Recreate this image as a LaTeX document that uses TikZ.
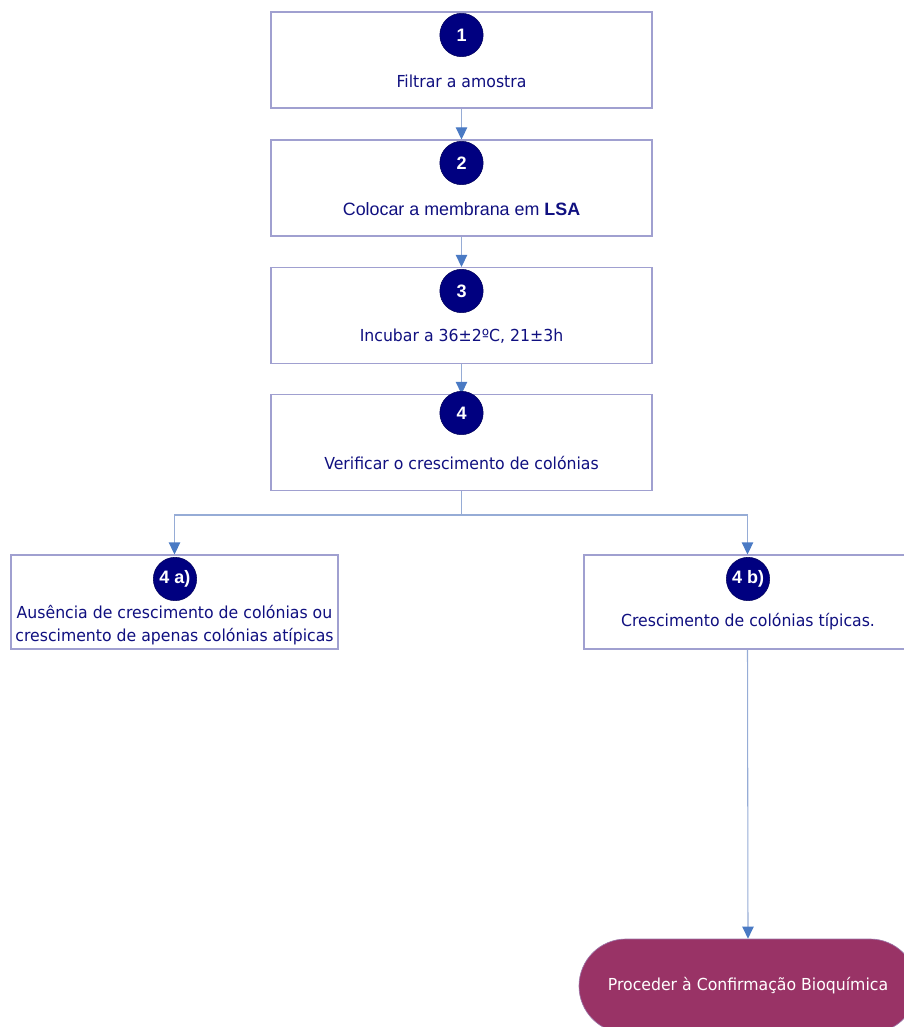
\documentclass[tikz,border=0pt]{standalone}
\usepackage{fontspec}
\usetikzlibrary{arrows.meta,shapes.misc}
\newfontfamily\tahfont[FakeStretch=0.95]{DejaVu Sans}
\newfontfamily\arialfont{Liberation Sans}
\definecolor{boxline}{RGB}{160,160,208}
\definecolor{navytext}{RGB}{16,16,128}
\definecolor{stepfill}{RGB}{0,0,128}
\definecolor{linkline}{RGB}{150,172,214}
\definecolor{tipblue}{RGB}{74,122,196}
\definecolor{termfill}{RGB}{153,51,102}
\tikzset{
  stepbox/.style={draw=boxline, line width=0.8pt, fill=white, inner sep=0pt},
  mainbox/.style={stepbox, minimum width=285.75pt, minimum height=72pt},
  sidebox/.style={stepbox, minimum width=245.25pt, minimum height=70.5pt},
  badge/.style={circle, fill=stepfill, draw=stepfill!70!black, line width=0.4pt, minimum size=32.5pt, inner sep=0pt,
    text=white, font=\arialfont\bfseries\fontsize{13.5}{15}\selectfont},
  label/.style={text=navytext, font=\tahfont\fontsize{12.4}{15}\selectfont, align=center, inner sep=0pt},
  link/.style={draw=linkline, line width=0.8pt},
  arrowlink/.style={link, -{Triangle[width=8.5pt,length=9pt,color=tipblue]}},
  terminal/.style={rounded rectangle, fill=termfill, draw=boxline!60!termfill, line width=0.5pt,
    minimum width=253.5pt, minimum height=70.5pt, inner sep=0pt,
    text=white, font=\tahfont\fontsize{12.4}{15}\selectfont}
}
\begin{document}
\begin{tikzpicture}[x=0.75pt,y=-0.75pt]
\useasboundingbox (0,0) rectangle (903,1027);
% main column of steps
\node[mainbox] (b1) at (461.5,60) {};
\node[mainbox] (b2) at (461.5,188) {};
\node[mainbox] (b3) at (461.5,315.5) {};
\node[mainbox] (b4) at (461.5,442.5) {};
% the two outcomes
\node[sidebox] (b4a) at (174.5,602) {};
\node[sidebox] (b4b) at (747.5,602) {};
% final action
\node[terminal] (term) at (748,986) {Proceder à Confirmação Bioquímica};

% connectors
\coordinate (split) at (461.5,515);
\draw[arrowlink] (b1.south) -- (b2.north);
\draw[arrowlink] (b2.south) -- (b3.north);
\draw[arrowlink] (b3.south) -- (b4.north);
\draw[link] (b4.south) -- (split);
\draw[arrowlink] (split) -| (b4a.north);
\draw[arrowlink] (split) -| (b4b.north);
\draw[arrowlink] (b4b.south) -- (term.north);

% numbered badges
\node[badge] (n1) at (461.5,35) {1};
\node[badge] (n2) at (461.5,163) {2};
\node[badge] (n3) at (461.5,291) {3};
\node[badge] (n4) at (461.5,413) {4};
\node[badge] (n4a) at (175,579) {4 a)};
\node[badge] (n4b) at (748,579) {4 b)};

% step texts
\node[label] (t1) at (461.5,81) {Filtrar a amostra};
\node[label, font=\arialfont\fontsize{13.4}{15}\selectfont] (t2) at (461.5,209) {Colocar a membrana em \textbf{LSA}};
\node[label] (t3) at (461.5,336) {Incubar a 36±2ºC, 21±3h};
\node[label] (t4) at (461.5,463) {Verificar o crescimento de colónias};
\node[label, font=\tahfont\fontsize{12.4}{17.25}\selectfont] (t4a) at (174.5,625) {Ausência de crescimento de colónias ou\\crescimento de apenas colónias atípicas};
\node[label] (t4b) at (748,622) {Crescimento de colónias típicas.};
\end{tikzpicture}
\end{document}
